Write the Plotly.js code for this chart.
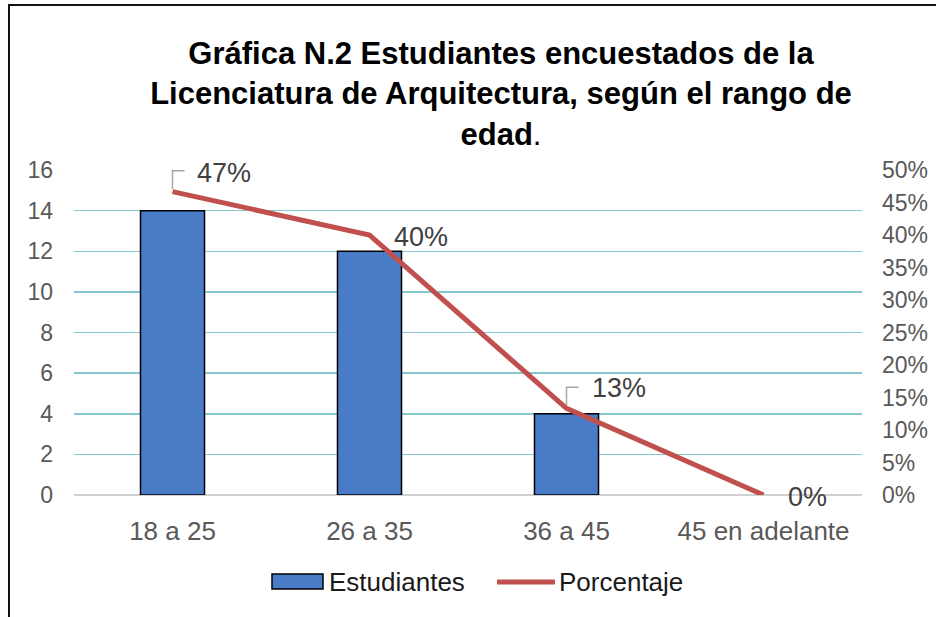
<!DOCTYPE html>
<html>
<head>
<meta charset="utf-8">
<script src="https://cdn.plot.ly/plotly-3.0.1.min.js"></script>
<style>
  html, body { margin: 0; padding: 0; background: #ffffff; }
  #wrap { position: relative; width: 936px; height: 617px; }
  #chart { position: absolute; left: 0; top: 0; width: 936px; height: 617px; }
  .bl { position: absolute; background: #111; }
</style>
</head>
<body>
<div id="wrap">
  <div id="chart"></div>
  <div class="bl" style="left:8px; top:4px; width:928px; height:2px;"></div>
  <div class="bl" style="left:8px; top:4px; width:2px; height:613px;"></div>
</div>
<script>
// ---- data ----
var categories = ['18 a 25', '26 a 35', '36 a 45', '45 en adelante'];
var estudiantes = [14, 12, 4, 0];
var porcentaje = [0.4667, 0.40, 0.1333, 0.0];
var porcentajeLabels = ['47%', '40%', '13%', '0%'];
var leftTicks = [0, 2, 4, 6, 8, 10, 12, 14, 16];
var rightTicks = [0, 0.05, 0.10, 0.15, 0.20, 0.25, 0.30, 0.35, 0.40, 0.45, 0.50];
var rightTickLabels = ['0%', '5%', '10%', '15%', '20%', '25%', '30%', '35%', '40%', '45%', '50%'];
var seriesNames = ['Estudiantes', 'Porcentaje'];
var titleText = '<b>Gráfica N.2 Estudiantes encuestados de la<br>Licenciatura de Arquitectura, según el rango de<br>edad</b>.';

// ---- layout geometry (pixels) ----
var W = 936, H = 617;
var PL = 74, PR = 862, PT = 170, PB = 495;
function px(x) { return (x - PL) / (PR - PL); }
function py(y) { return (PB - y) / (PB - PT); }

var FONT = 'Liberation Sans, Arial, sans-serif';
var blue = '#4A7BC6';
var red = '#C0504D';

var traces = [
  {
    type: 'bar',
    name: seriesNames[0],
    x: categories,
    y: estudiantes,
    width: 0.325,
    marker: {
      color: blue,
      line: { color: '#000000', width: estudiantes.map(function (v) { return v > 0 ? 1.5 : 0; }) }
    },
    yaxis: 'y',
    showlegend: false
  },
  {
    type: 'scatter',
    mode: 'lines',
    name: seriesNames[1],
    x: categories,
    y: porcentaje,
    yaxis: 'y2',
    line: { color: red, width: 5 },
    showlegend: false
  }
];

// data label offsets (pixel styling only)
var labelOffsets = [[22, 19], [22, -2], [23, 20], [22, -2]];
var annotations = porcentajeLabels.map(function (t, i) {
  return {
    x: categories[i], y: porcentaje[i], xref: 'x', yref: 'y2',
    text: t, showarrow: false, xanchor: 'left', yanchor: 'middle',
    xshift: labelOffsets[i][0], yshift: labelOffsets[i][1],
    font: { family: FONT, size: 27, color: '#404040' }
  };
});

// legend (drawn manually)
annotations.push({
  x: px(327), y: py(582), xref: 'paper', yref: 'paper', text: seriesNames[0],
  showarrow: false, xanchor: 'left', yanchor: 'middle',
  font: { family: FONT, size: 26, color: '#1a1a1a' }
});
annotations.push({
  x: px(557), y: py(582), xref: 'paper', yref: 'paper', text: seriesNames[1],
  showarrow: false, xanchor: 'left', yanchor: 'middle',
  font: { family: FONT, size: 26, color: '#1a1a1a' }
});

var shapes = [
  {
    type: 'rect', xref: 'paper', yref: 'paper',
    x0: px(272), x1: px(323), y0: py(589), y1: py(574),
    fillcolor: blue, line: { color: '#000000', width: 1.5 }
  },
  {
    type: 'line', xref: 'paper', yref: 'paper',
    x0: px(497), x1: px(555), y0: py(582), y1: py(582),
    line: { color: red, width: 5 }
  }
];
// leader lines for labels 0 and 2
[0, 2].forEach(function (i) {
  shapes.push({
    type: 'path', xref: 'x', yref: 'y2',
    xsizemode: 'pixel', ysizemode: 'pixel',
    xanchor: categories[i], yanchor: porcentaje[i],
    path: 'M0,3 L0,21 L12,21',
    line: { color: '#A6A6A6', width: 1.5 }
  });
});

var layout = {
  width: W, height: H,
  margin: { l: PL, r: W - PR, t: PT, b: H - PB, pad: 0 },
  paper_bgcolor: '#ffffff',
  plot_bgcolor: '#ffffff',
  showlegend: false,
  title: {
    text: titleText,
    font: { family: FONT, size: 31, color: '#000000' },
    xref: 'container', yref: 'container',
    x: 501 / W, xanchor: 'center',
    y: 1 - 64 / H, yanchor: 'top'
  },
  xaxis: {
    type: 'category',
    showgrid: false, zeroline: false, showline: false,
    ticks: '', ticklabelstandoff: 18,
    tickfont: { family: FONT, size: 26, color: '#595959' },
    range: [-0.5, 3.5]
  },
  yaxis: {
    range: [0, 16], tickvals: leftTicks, ticktext: leftTicks.map(String),
    showgrid: true, gridcolor: '#86C8D0', gridwidth: 1.5,
    zeroline: true, zerolinecolor: '#D0D0D0', zerolinewidth: 1.5,
    showline: false, ticks: '', ticklabelstandoff: 20,
    tickfont: { family: FONT, size: 23, color: '#595959' }
  },
  yaxis2: {
    overlaying: 'y', side: 'right',
    range: [0, 0.5], tickvals: rightTicks, ticktext: rightTickLabels,
    showgrid: false, zeroline: false, showline: false,
    ticks: '', ticklabelstandoff: 19,
    tickfont: { family: FONT, size: 23, color: '#595959' }
  },
  annotations: annotations,
  shapes: shapes
};

Plotly.newPlot('chart', traces, layout, { displayModeBar: false, staticPlot: true });
</script>
</body>
</html>
